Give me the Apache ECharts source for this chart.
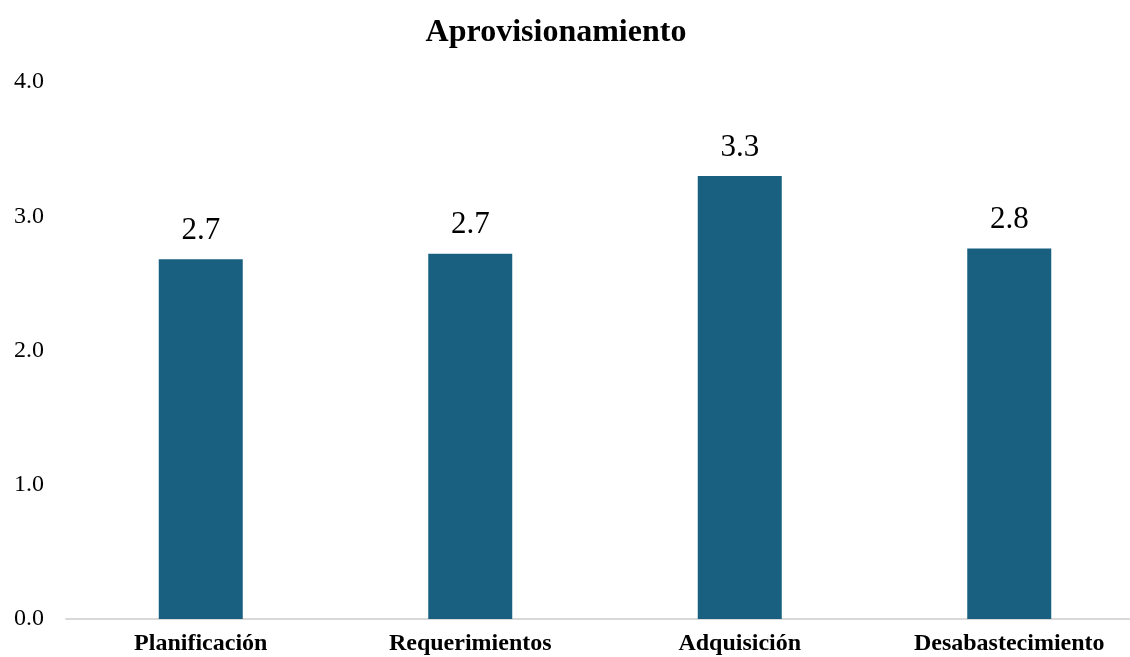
<!DOCTYPE html>
<html>
<head>
<meta charset="utf-8">
<script src="https://cdn.jsdelivr.net/npm/echarts@6/dist/echarts.min.js"></script>
<style>
html,body{margin:0;padding:0;background:#fff;}
#chart{width:1130px;height:657px;}
</style>
</head>
<body>
<div id="chart"></div>
<script>
const chartTitle = 'Aprovisionamiento';
const categories = ['Planificación', 'Requerimientos', 'Adquisición', 'Desabastecimiento'];
const values = [2.68, 2.72, 3.30, 2.76];
const yTicks = [0, 1, 2, 3, 4];

const chart = echarts.init(document.getElementById('chart'));
const font = '"Liberation Serif", "Times New Roman", serif';
chart.setOption({
  animation: false,
  backgroundColor: '#ffffff',
  title: {
    text: chartTitle,
    left: 551,
    textAlign: 'center',
    top: 12,
    textStyle: { fontFamily: font, fontSize: 32, fontWeight: 'bold', color: '#000' }
  },
  grid: { left: 66, right: -14, top: 82, bottom: 38, containLabel: false, outerBoundsMode: 'none' },
  xAxis: {
    type: 'category',
    data: categories,
    axisLine: { lineStyle: { color: '#d9d9d9', width: 2 } },
    axisTick: { show: false },
    axisLabel: { fontFamily: font, fontSize: 24, fontWeight: 'bold', color: '#000', margin: 13, interval: 0 }
  },
  yAxis: {
    type: 'value',
    min: yTicks[0],
    max: yTicks[yTicks.length - 1],
    interval: 1,
    axisLine: { show: false },
    axisTick: { show: false },
    splitLine: { show: false },
    axisLabel: { fontFamily: font, fontSize: 24, color: '#000', margin: 22, formatter: v => v.toFixed(1) }
  },
  series: [{
    type: 'bar',
    data: values,
    barWidth: 84,
    itemStyle: { color: '#185f80' },
    label: {
      show: true,
      position: 'top',
      distance: 13,
      fontFamily: font,
      fontSize: 31,
      color: '#000',
      formatter: p => p.value.toFixed(1)
    }
  }]
});
</script>
</body>
</html>
